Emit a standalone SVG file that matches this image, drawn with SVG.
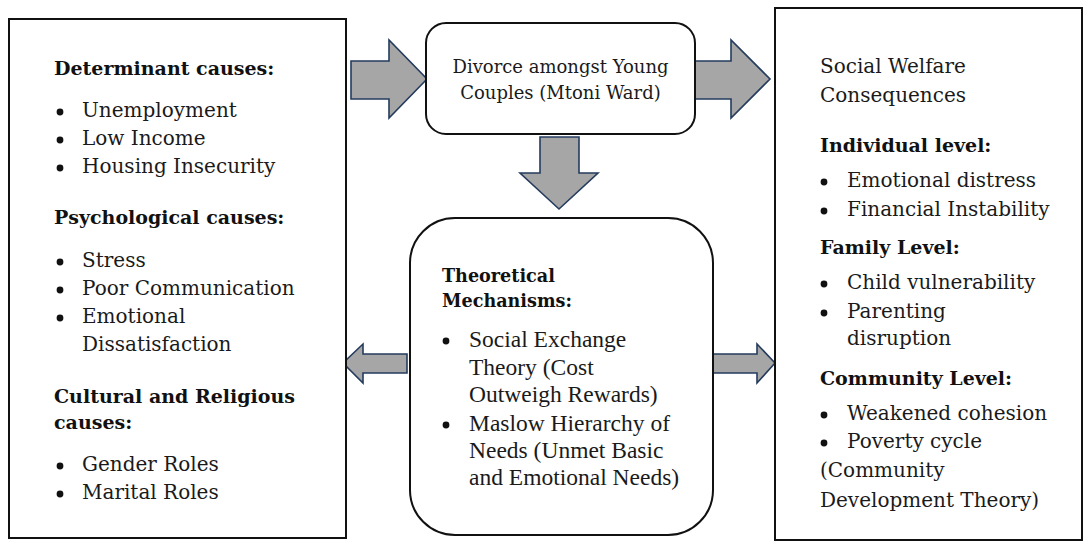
<svg xmlns="http://www.w3.org/2000/svg" width="1084" height="541" viewBox="0 0 1084 541">
<style>
.t{font-family:"DejaVu Serif","Liberation Serif",serif;font-size:20px;fill:#1a1a1a}
.c{font-family:"DejaVu Serif","Liberation Serif",serif;font-size:18px;fill:#1a1a1a}
.b{font-family:"DejaVu Serif","Liberation Serif",serif;font-size:19px;font-weight:bold;fill:#111}
.b2{font-family:"DejaVu Serif","Liberation Serif",serif;font-size:17.6px;font-weight:bold;fill:#111}
.tm{font-family:"Liberation Serif","Times New Roman",serif;font-size:23.5px;fill:#1a1a1a}
.box{fill:#fff;stroke:#111;stroke-width:2}
.arr{fill:#a6a6a6;stroke:#243b5e;stroke-width:1.6;stroke-linejoin:miter}
.dot{fill:#111}
</style>
<rect width="1084" height="541" fill="#fff"/>
<g id="connectors">
<polygon class="arr" points="351,61 389,61 389,40 427,79 389,118 389,99 351,99"/>
<polygon class="arr" points="693,61 731,61 731,40 770,79 731,118 731,99 693,99"/>
<polygon class="arr" points="540,137 579,137 579,173 598,173 559,209 520,173 540,173"/>
<polygon class="arr" points="407,354 363,354 363,344 343,363 363,383 363,373 407,373"/>
<polygon class="arr" points="713,354 757,354 757,344 775,363 757,383 757,373 713,373"/>
</g>
<g id="causes">
<rect class="box" x="9" y="19" width="337" height="519"/>
<text class="b" x="54" y="75">Determinant causes:</text>
<circle class="dot" cx="60" cy="112" r="3.4"/><text class="t" x="82" y="117">Unemployment</text>
<circle class="dot" cx="60" cy="140" r="3.4"/><text class="t" x="82" y="145">Low Income</text>
<circle class="dot" cx="60" cy="168" r="3.4"/><text class="t" x="82" y="173">Housing Insecurity</text>
<text class="b" x="54" y="224">Psychological causes:</text>
<circle class="dot" cx="60" cy="262" r="3.4"/><text class="t" x="82" y="267">Stress</text>
<circle class="dot" cx="60" cy="290" r="3.4"/><text class="t" x="82" y="295">Poor Communication</text>
<circle class="dot" cx="60" cy="318" r="3.4"/><text class="t" x="82" y="323">Emotional</text>
<text class="t" x="82" y="351">Dissatisfaction</text>
<text class="b" x="54" y="403">Cultural and Religious</text>
<text class="b" x="54" y="429">causes:</text>
<circle class="dot" cx="60" cy="466" r="3.4"/><text class="t" x="82" y="471">Gender Roles</text>
<circle class="dot" cx="60" cy="494" r="3.4"/><text class="t" x="82" y="499">Marital Roles</text>
</g>
<g id="divorce">
<rect class="box" x="426" y="23" width="269" height="111" rx="20"/>
<text class="c" x="560.5" y="73" text-anchor="middle">Divorce amongst Young</text>
<text class="c" x="560.5" y="99" text-anchor="middle">Couples (Mtoni Ward)</text>
</g>
<g id="mechanisms">
<rect class="box" x="410" y="218" width="303" height="317" rx="45"/>
<text class="b2" x="442" y="282">Theoretical</text>
<text class="b2" x="442" y="307">Mechanisms:</text>
<circle class="dot" cx="446" cy="341" r="3.4"/><text class="tm" x="469" y="347">Social Exchange</text>
<text class="tm" x="469" y="375">Theory (Cost</text>
<text class="tm" x="469" y="402">Outweigh Rewards)</text>
<circle class="dot" cx="446" cy="425" r="3.4"/><text class="tm" x="469" y="431">Maslow Hierarchy of</text>
<text class="tm" x="469" y="458">Needs (Unmet Basic</text>
<text class="tm" x="469" y="485">and Emotional Needs)</text>
</g>
<g id="consequences">
<rect class="box" x="775" y="8" width="307" height="532"/>
<text class="t" x="820" y="73">Social Welfare</text>
<text class="t" x="820" y="102">Consequences</text>
<text class="b" x="820" y="152">Individual level:</text>
<circle class="dot" cx="824" cy="182" r="3.4"/><text class="t" x="847" y="187">Emotional distress</text>
<circle class="dot" cx="824" cy="211" r="3.4"/><text class="t" x="847" y="216">Financial Instability</text>
<text class="b" x="820" y="254">Family Level:</text>
<circle class="dot" cx="824" cy="284" r="3.4"/><text class="t" x="847" y="289">Child vulnerability</text>
<circle class="dot" cx="824" cy="313" r="3.4"/><text class="t" x="847" y="318">Parenting</text>
<text class="t" x="847" y="345">disruption</text>
<text class="b" x="820" y="385">Community Level:</text>
<circle class="dot" cx="824" cy="415" r="3.4"/><text class="t" x="847" y="420">Weakened cohesion</text>
<circle class="dot" cx="824" cy="443" r="3.4"/><text class="t" x="847" y="448">Poverty cycle</text>
<text class="t" x="820" y="477">(Community</text>
<text class="t" x="820" y="507">Development Theory)</text>
</g>
</svg>
